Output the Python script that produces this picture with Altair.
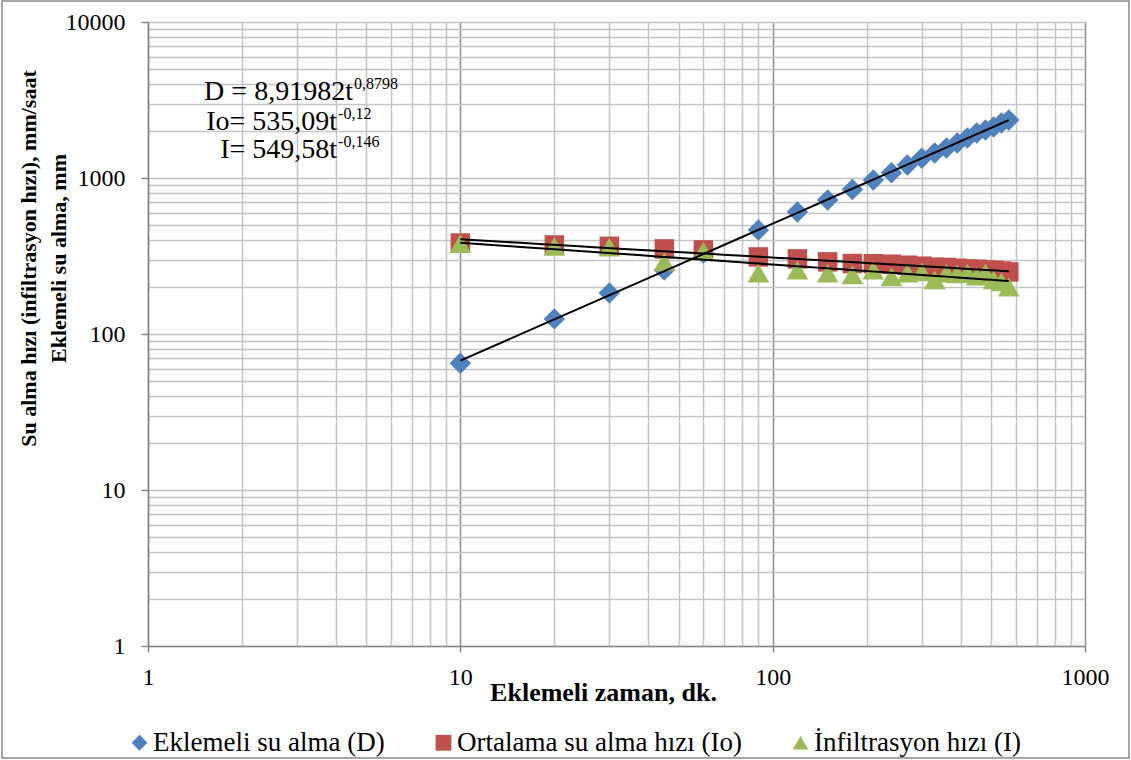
import altair as alt
import pandas as pd

# ---- data ----
t = [10, 20, 30, 45, 60, 90, 120, 150, 180, 210, 240, 270, 300, 330, 360, 390, 420, 450, 480, 510, 540, 570]
D = [65, 125, 183, 257, 330, 464, 605, 722, 845, 971, 1080, 1210, 1340, 1445, 1556, 1676, 1805, 1943, 2031, 2123, 2252, 2354]
Io = [383, 372, 365, 351, 346, 312, 303, 290, 283, 282, 280, 276, 272, 268, 267, 264, 261, 260, 257, 256, 253, 250]
I = [380, 365, 360, 290, 340, 246, 257, 246, 239, 257, 232, 246, 250, 222, 246, 243, 246, 235, 246, 222, 216, 200]

names = ["Eklemeli su alma (D)", "Ortalama su alma hızı (Io)", "İnfiltrasyon hızı (I)"]
colors = ["#4F81BD", "#C0504D", "#9BBB59"]
shapes = ["diamond", "square", "triangle-up"]
sizes = [460, 380, 470]

eq_base = ["D = 8,91982t", "Io= 535,09t", "I= 549,58t"]
eq_sup = ["0,8798", "-0,12", "-0,146"]

x_ticks = [m * 10 ** e for e in range(3) for m in range(1, 10)] + [1000]
y_ticks = [m * 10 ** e for e in range(4) for m in range(1, 10)] + [10000]

rows = []
for name, vals in zip(names, [D, Io, I]):
    for tt, v in zip(t, vals):
        rows.append({"t": tt, "v": v, "series": name})
df = pd.DataFrame(rows)

FONT = "Liberation Serif"
major_x = "indexof([1,10,100,1000], datum.value) >= 0"
major_y = "indexof([1,10,100,1000,10000], datum.value) >= 0"

x_enc = alt.X(
    "t:Q",
    scale=alt.Scale(type="log", domain=[1, 1000], nice=False),
    axis=alt.Axis(
        values=x_ticks,
        title="Eklemeli  zaman, dk.",
        labelExpr=f"{major_x} ? format(datum.value, 'd') : ''",
        labelOverlap=False,
        labelFlush=False,
        labelFont=FONT,
        labelFontSize=24,
        labelColor="black",
        labelPadding=13,
        tickSize=6,
        tickColor="#868686",
        tickWidth=1.5,
        tickOpacity={"condition": {"test": major_x, "value": 1}, "value": 0},
        domainColor="#868686",
        domainWidth=1.5,
        gridColor={"condition": {"test": major_x, "value": "#8c8c8c"}, "value": "#c4c4c4"},
        gridWidth=1.5,
        titleFont=FONT,
        titleFontSize=26,
        titleFontWeight="bold",
        titleColor="black",
        titleX=455,
        titleY=54,
        titleBaseline="alphabetic",
        titleAlign="center",
    ),
)

y_enc = alt.Y(
    "v:Q",
    scale=alt.Scale(type="log", domain=[1, 10000], nice=False),
    axis=alt.Axis(
        values=y_ticks,
        title=["Su alma hızı (infiltrasyon hızı), mm/saat", "Eklemeli su alma, mm"],
        labelExpr=f"{major_y} ? format(datum.value, 'd') : ''",
        labelOverlap=False,
        labelFlush=False,
        labelFont=FONT,
        labelFontSize=24,
        labelColor="black",
        labelPadding=16,
        tickSize=7,
        tickColor="#868686",
        tickWidth=1.5,
        tickOpacity={"condition": {"test": major_y, "value": 1}, "value": 0},
        domainColor="#868686",
        domainWidth=1.5,
        gridColor="#c4c4c4",
        gridWidth=1.5,
        titleFont=FONT,
        titleFontSize=22,
        titleFontWeight="bold",
        titleColor="black",
        titleAngle=270,
        titleX=-130,
        titleY=236,
        titleBaseline="top",
        titleAlign="center",
        titleLineHeight=30,
    ),
)

color_enc = alt.Color(
    "series:N",
    scale=alt.Scale(domain=names, range=colors),
    legend=alt.Legend(
        title=None,
        orient="none",
        direction="horizontal",
        legendX=-22,
        legendY=707,
        labelFont=FONT,
        labelFontSize=27,
        labelColor="black",
        labelLimit=0,
        symbolSize=250,
        symbolStrokeWidth=0,
        columnPadding=45,
        labelOffset=0,
        padding=0,
    ),
)
shape_enc = alt.Shape("series:N", scale=alt.Scale(domain=names, range=shapes), legend=alt.Legend(title=None))

point_layers = []
for name, s in zip(names, sizes):
    point_layers.append(
        alt.Chart(df[df["series"] == name])
        .mark_point(filled=True, opacity=1, size=s)
        .encode(x=x_enc, y=y_enc, color=color_enc, shape=shape_enc)
    )

trend = (
    alt.Chart(df)
    .transform_regression("t", "v", method="pow", groupby=["series"])
    .mark_line(color="black", strokeWidth=2)
    .encode(x="t:Q", y="v:Q", detail="series:N")
)

# equation annotations (anchor = end of base text / start of exponent)
ann = pd.DataFrame({
    "t": [4.53, 4.03, 4.03],
    "v": [3162, 2031, 1340],
    "base": eq_base,
    "sup": eq_sup,
})
ann_base = alt.Chart(ann).mark_text(
    align="right", baseline="alphabetic", font=FONT, fontSize=28, color="black"
).encode(x="t:Q", y="v:Q", text="base:N")
ann_sup = alt.Chart(ann).mark_text(
    align="left", baseline="alphabetic", font=FONT, fontSize=16, color="black", dy=-11, dx=1
).encode(x="t:Q", y="v:Q", text="sup:N")

frame = alt.Chart(pd.DataFrame({"a": [0]})).mark_rect(
    fill="transparent", stroke="#8a8a8a", strokeWidth=1.5
).encode(x=alt.value(-146), x2=alt.value(981), y=alt.value(-21), y2=alt.value(736))

chart = (
    alt.layer(*point_layers, trend, ann_base, ann_sup, frame)
    .properties(
        width=937,
        height=624,
        padding={"left": 148, "top": 22, "right": 46, "bottom": 114},
        autosize=alt.AutoSizeParams(type="none"),
        background="white",
    )
    .configure_view(stroke=None)
)

chart.save("out.html", embed_options={"renderer": "svg", "actions": False})
